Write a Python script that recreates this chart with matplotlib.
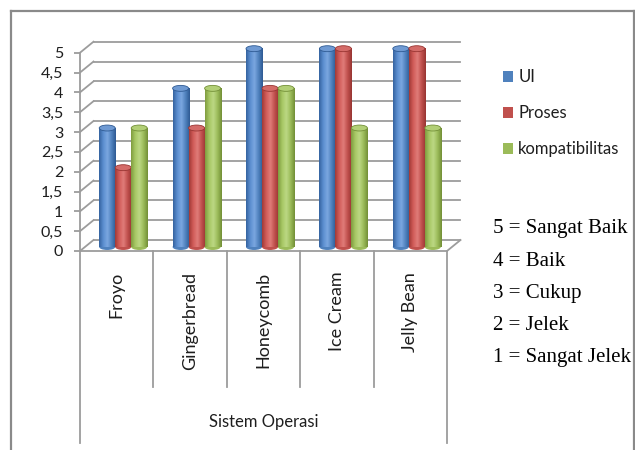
import matplotlib
matplotlib.use("Agg")
import matplotlib.pyplot as plt
import numpy as np
from matplotlib.transforms import ScaledTranslation
from matplotlib.patches import Ellipse, Patch
from matplotlib.colors import LinearSegmentedColormap
from matplotlib.lines import Line2D

categories = ["Froyo", "Gingerbread", "Honeycomb", "Ice Cream", "Jelly Bean"]
series_names = ["UI", "Proses", "kompatibilitas"]
ui = [3, 4, 5, 5, 5]
proses = [2, 3, 4, 5, 5]
kompatibilitas = [3, 4, 4, 3, 3]
yticks = [0, 0.5, 1, 1.5, 2, 2.5, 3, 3.5, 4, 4.5, 5]
ytick_labels = ["0", "0,5", "1", "1,5", "2", "2,5", "3", "3,5", "4", "4,5", "5"]
x_title = "Sistem Operasi"
scale_notes = ["5 = Sangat Baik", "4 = Baik", "3 = Cukup", "2 = Jelek", "1 = Sangat Jelek"]

series_vals = [ui, proses, kompatibilitas]
base_colors = ["#4F81BD", "#C0504D", "#9BBB59"]
grads = [
    ["#3563A0", "#5B8ED0", "#7BA7E0", "#4F81BD", "#2E5A93"],
    ["#A23A37", "#D25C59", "#E07C79", "#C0504D", "#983532"],
    ["#7F9C3F", "#A8C865", "#BCD884", "#9BBB59", "#738F37"],
]
cap_colors = ["#6F9AD3", "#D46B68", "#B2CF76"]

W, H, DPI = 635, 450, 100
fig = plt.figure(figsize=(W / DPI, H / DPI), dpi=DPI)
fig.patch.set_facecolor("white")

FONT = "Lato"
GRID = "#9c9c9c"
TXT = "#1e1e1e"

# axes = front plane of the 3D box
x_left, x_right, y_zero, y_five = 80, 447, 251, 52.7
ax = fig.add_axes([x_left / W, (H - y_zero) / H, (x_right - x_left) / W, (y_zero - y_five) / H])
ax.set_xlim(0, 5)
ax.set_ylim(0, 5)
ax.patch.set_alpha(0)
for s in ["top", "right", "bottom"]:
    ax.spines[s].set_visible(False)
ax.spines["left"].set_color(GRID)
ax.spines["left"].set_linewidth(1.3)

back = ax.transData + ScaledTranslation(13.5 / DPI, 11 / DPI, fig.dpi_scale_trans)
mid = ax.transData + ScaledTranslation(6.5 / DPI, 4 / DPI, fig.dpi_scale_trans)

# back wall gridlines + side wall diagonals
for v in yticks:
    ax.plot([0, 5], [v, v], color=GRID, lw=1.3, transform=back, clip_on=False, zorder=1)
    p0 = ax.transData.transform((0, v))
    p1 = back.transform((0, v))
    ax.add_line(Line2D([p0[0], p1[0]], [p0[1], p1[1]], color=GRID, lw=1.3, transform=None,
                       clip_on=False, zorder=1))
# floor front edge & right diagonal
ax.plot([0, 5], [0, 0], color=GRID, lw=1.3, clip_on=False, zorder=1)
q0 = ax.transData.transform((5, 0))
q1 = back.transform((5, 0))
ax.add_line(Line2D([q0[0], q1[0]], [q0[1], q1[1]], color=GRID, lw=1.3, transform=None,
                   clip_on=False, zorder=1))

# category divider lines below
for i in range(6):
    bottom = -4.84 if i in (0, 5) else -3.43
    ax.plot([i, i], [0, bottom], color=GRID, lw=1.3, clip_on=False, zorder=1)

# cylinders
bw = 0.218
cap_h = 0.15
for si, vals in enumerate(series_vals):
    cmap = LinearSegmentedColormap.from_list("c%d" % si, grads[si])
    grad = np.linspace(0, 1, 64)[None, :]
    for ci, v in enumerate(vals):
        xc = ci + 0.5 + (si - 1) * bw
        x0 = xc - bw / 2
        z = 3 + ci * 3 + si
        ax.add_patch(Ellipse((xc, 0), bw, cap_h, facecolor=grads[si][3], edgecolor="none",
                             transform=mid, zorder=z, clip_on=False))
        ax.imshow(grad, extent=[x0, x0 + bw, 0, v], transform=mid, aspect="auto", cmap=cmap,
                  interpolation="bilinear", zorder=z, clip_on=False)
        ax.add_patch(Ellipse((xc, v), bw, cap_h, facecolor=cap_colors[si], edgecolor=grads[si][4],
                             lw=0.6, transform=mid, zorder=z + 0.5, clip_on=False))

ax.set_xlim(0, 5)
ax.set_ylim(0, 5)
ax.set_aspect("auto")

ax.set_yticks(yticks, ytick_labels)
ax.tick_params(axis="y", length=4, width=1.3, color=GRID, pad=8, labelsize=11.5, labelcolor=TXT)
ax.set_xticks([i + 0.5 for i in range(5)], categories, rotation=90)
ax.tick_params(axis="x", length=0, pad=15, labelsize=13, labelcolor=TXT)
for lab in ax.get_xticklabels() + ax.get_yticklabels():
    lab.set_fontfamily(FONT)

ax.text(2.5, -4.3, x_title, ha="center", va="center", fontsize=12, family=FONT, color=TXT,
        clip_on=False)

# legend
handles = [Patch(facecolor=c, edgecolor="none") for c in base_colors]
leg = fig.legend(handles, series_names, loc="upper left", bbox_to_anchor=(503 / W, 1 - 69 / H),
                 frameon=False, handlelength=0.62, handleheight=0.62, handletextpad=0.3,
                 labelspacing=1.2, borderpad=0, borderaxespad=0,
                 prop={"family": FONT, "size": 12})
for t in leg.get_texts():
    t.set_color(TXT)

# scale notes
for i, t in enumerate(scale_notes):
    fig.text(493 / W, 1 - (229 + i * 32.2) / H, t, ha="left", va="center",
             fontsize=15, family="Liberation Serif", color="black")

# outer frame
fc = "#8a8a8a"
fig.add_artist(Line2D([11 / W, 11 / W], [0, 1 - 11 / H], color=fc, lw=1.6, transform=fig.transFigure))
fig.add_artist(Line2D([11 / W, 634 / W], [1 - 11 / H, 1 - 11 / H], color=fc, lw=1.6, transform=fig.transFigure))
fig.add_artist(Line2D([634 / W, 634 / W], [0, 1 - 11 / H], color=fc, lw=1.6, transform=fig.transFigure))

fig.savefig("out.png", dpi=DPI)
